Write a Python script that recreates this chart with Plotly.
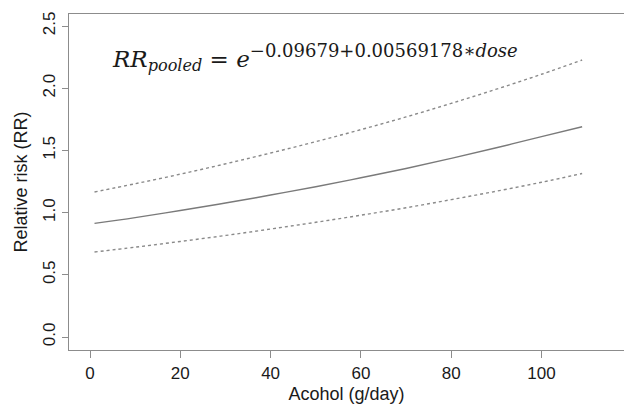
import plotly.graph_objects as go

# Data
dose = [1, 10, 20, 30, 40, 50, 60, 70, 80, 90, 100, 109]
rr_pooled = [0.913, 0.960, 1.017, 1.077, 1.141, 1.208, 1.280, 1.355, 1.436, 1.521, 1.611, 1.690]
rr_upper = [1.166, 1.232, 1.309, 1.392, 1.479, 1.570, 1.667, 1.769, 1.878, 1.992, 2.112, 2.227]
rr_lower = [0.683, 0.722, 0.768, 0.816, 0.868, 0.922, 0.979, 1.039, 1.104, 1.172, 1.244, 1.314]

x_ticks = [0, 20, 40, 60, 80, 100]
y_ticks = [0.0, 0.5, 1.0, 1.5, 2.0, 2.5]
y_tick_labels = ["0.0", "0.5", "1.0", "1.5", "2.0", "2.5"]

line_grey = "#7a7a7a"
axis_grey = "#8c8c8c"
text_col = "#1a1a1a"

fig = go.Figure()
fig.add_trace(go.Scatter(x=dose, y=rr_upper, mode="lines",
                         line=dict(color="#8a8a8a", width=1.4, dash="dot", shape="spline")))
fig.add_trace(go.Scatter(x=dose, y=rr_pooled, mode="lines",
                         line=dict(color=line_grey, width=1.4, shape="spline")))
fig.add_trace(go.Scatter(x=dose, y=rr_lower, mode="lines",
                         line=dict(color="#8a8a8a", width=1.4, dash="dot", shape="spline")))

fig.add_annotation(
    x=4.4, y=2.25, xref="x", yref="y", xanchor="left", yanchor="middle",
    showarrow=False,
    text=("<i>RR</i><sub><i>pooled</i></sub> = <i>e</i>"
          "<sup><span style='font-size:18px'>−0.09679+0.00569178∗<i>dose</i></span></sup>"),
    font=dict(family="DejaVu Serif", size=23, color=text_col),
)

fig.update_layout(
    width=624, height=407,
    margin=dict(l=69, r=0, t=14, b=57),
    paper_bgcolor="white", plot_bgcolor="white",
    showlegend=False,
    font=dict(family="Liberation Sans, Arial", color=text_col),
)
fig.update_xaxes(
    range=[-4.65, 118.27], tickvals=x_ticks, ticks="outside", ticklen=7,
    tickcolor=axis_grey, showline=True, linecolor=axis_grey, linewidth=1.2,
    mirror=True, showgrid=False, zeroline=False,
    tickfont=dict(size=17, color=text_col),
    title=dict(text="Acohol (g/day)", font=dict(size=18, color=text_col), standoff=5),
)
fig.update_yaxes(
    range=[-0.1045, 2.5965], tickvals=y_ticks, ticktext=y_tick_labels,
    ticks="outside", ticklen=6, tickangle=-90,
    tickcolor=axis_grey, showline=True, linecolor=axis_grey, linewidth=1.2,
    showgrid=False, zeroline=False,
    tickfont=dict(size=17, color=text_col),
    title=dict(text="Relative risk (RR)", font=dict(size=18, color=text_col), standoff=7),
)

fig.write_html("out.html")
